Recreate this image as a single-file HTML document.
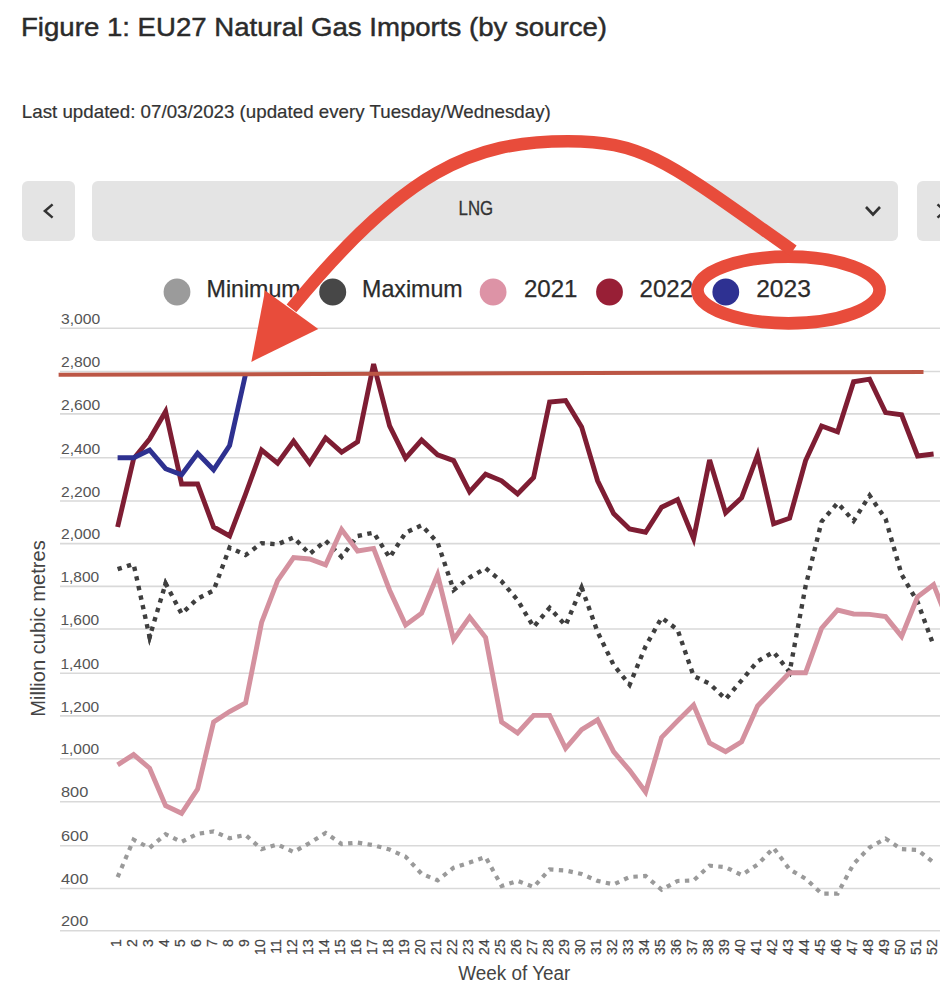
<!DOCTYPE html>
<html><head><meta charset="utf-8"><title>EU27 Natural Gas Imports</title>
<style>
html,body{margin:0;padding:0;background:#fff;}
body{width:940px;height:1000px;overflow:hidden;position:relative;font-family:"Liberation Sans", Arial, sans-serif;color:#333;}
svg{position:absolute;left:0;top:0;}
.yl{font-family:"Liberation Sans", Arial, sans-serif;font-size:14.5px;fill:#555;}
.xl{font-family:"Liberation Sans", Arial, sans-serif;font-size:14px;fill:#444;stroke:#444;stroke-width:0.2px;text-anchor:end;}
.ax{font-family:"Liberation Sans", Arial, sans-serif;font-size:20px;fill:#444;}
.t1{font-family:"Liberation Sans", Arial, sans-serif;font-size:26px;fill:#2b2b2b;stroke:#2b2b2b;stroke-width:0.45px;}
.t2{font-family:"Liberation Sans", Arial, sans-serif;font-size:18.5px;fill:#333;stroke:#333;stroke-width:0.2px;}
.dd{font-family:"Liberation Sans", Arial, sans-serif;font-size:19.8px;fill:#333;stroke:#333;stroke-width:0.3px;}
.lg{font-family:"Liberation Sans", Arial, sans-serif;font-size:23.2px;fill:#2b2b2b;stroke:#2b2b2b;stroke-width:0.25px;}
</style></head>
<body>
<svg width="940" height="1000" viewBox="0 0 940 1000">
<text x="21" y="35.7" class="t1" textLength="586" lengthAdjust="spacingAndGlyphs">Figure 1: EU27 Natural Gas Imports (by source)</text>
<text x="21.8" y="118.3" class="t2" textLength="529" lengthAdjust="spacingAndGlyphs">Last updated: 07/03/2023 (updated every Tuesday/Wednesday)</text>
<rect x="22" y="181" width="53" height="60" rx="6" fill="#e4e4e4"/>
<polyline points="52.6,204.4 44.9,211 52.6,217.6" fill="none" stroke="#333" stroke-width="2.5"/>
<rect x="92" y="181" width="806" height="60" rx="6" fill="#e4e4e4"/>
<text x="458.6" y="214.9" class="dd" textLength="34.6" lengthAdjust="spacingAndGlyphs">LNG</text>
<polyline points="866,207 873,214.5 880,207" fill="none" stroke="#333" stroke-width="2.6"/>
<rect x="917" y="181" width="40" height="60" rx="6" fill="#e4e4e4"/>
<polyline points="937.5,204.4 945,211 937.5,217.6" fill="none" stroke="#333" stroke-width="2.5"/>
<circle cx="177" cy="292" r="13.4" fill="#9b9b9b"/>
<text x="206.6" y="296.8" class="lg">Minimum</text>
<circle cx="332.7" cy="292" r="13.5" fill="#474747"/>
<text x="362.1" y="296.8" class="lg" textLength="100.6" lengthAdjust="spacingAndGlyphs">Maximum</text>
<circle cx="493.1" cy="292" r="13.4" fill="#dd93a6"/>
<text x="524" y="296.8" class="lg" textLength="53.5" lengthAdjust="spacingAndGlyphs">2021</text>
<circle cx="609.5" cy="292" r="13.4" fill="#981f36"/>
<text x="639.6" y="296.8" class="lg" textLength="53.5" lengthAdjust="spacingAndGlyphs">2022</text>
<circle cx="725.8" cy="292" r="13.4" fill="#2e3192"/>
<text x="756.2" y="296.8" class="lg" textLength="54.6" lengthAdjust="spacingAndGlyphs">2023</text>
<line x1="60" y1="328.3" x2="940" y2="328.3" stroke="#d9d9d9" stroke-width="1.6"/>
<line x1="60" y1="371.5" x2="940" y2="371.5" stroke="#d9d9d9" stroke-width="1.6"/>
<line x1="60" y1="413.9" x2="940" y2="413.9" stroke="#d9d9d9" stroke-width="1.6"/>
<line x1="60" y1="457.8" x2="940" y2="457.8" stroke="#d9d9d9" stroke-width="1.6"/>
<line x1="60" y1="501" x2="940" y2="501" stroke="#d9d9d9" stroke-width="1.6"/>
<line x1="60" y1="543.6" x2="940" y2="543.6" stroke="#d9d9d9" stroke-width="1.6"/>
<line x1="60" y1="586.4" x2="940" y2="586.4" stroke="#d9d9d9" stroke-width="1.6"/>
<line x1="60" y1="629" x2="940" y2="629" stroke="#d9d9d9" stroke-width="1.6"/>
<line x1="60" y1="673.2" x2="940" y2="673.2" stroke="#d9d9d9" stroke-width="1.6"/>
<line x1="60" y1="715.9" x2="940" y2="715.9" stroke="#d9d9d9" stroke-width="1.6"/>
<line x1="60" y1="758.7" x2="940" y2="758.7" stroke="#d9d9d9" stroke-width="1.6"/>
<line x1="60" y1="801.7" x2="940" y2="801.7" stroke="#d9d9d9" stroke-width="1.6"/>
<line x1="60" y1="845.7" x2="940" y2="845.7" stroke="#d9d9d9" stroke-width="1.6"/>
<line x1="60" y1="888.5" x2="940" y2="888.5" stroke="#d9d9d9" stroke-width="1.6"/>
<line x1="60" y1="930.7" x2="940" y2="930.7" stroke="#d9d9d9" stroke-width="1.6"/>
<text x="61" y="324.0" class="yl" textLength="39.2" lengthAdjust="spacingAndGlyphs">3,000</text>
<text x="61" y="367.2" class="yl" textLength="39.2" lengthAdjust="spacingAndGlyphs">2,800</text>
<text x="61" y="409.6" class="yl" textLength="39.2" lengthAdjust="spacingAndGlyphs">2,600</text>
<text x="61" y="453.5" class="yl" textLength="39.2" lengthAdjust="spacingAndGlyphs">2,400</text>
<text x="61" y="496.7" class="yl" textLength="39.2" lengthAdjust="spacingAndGlyphs">2,200</text>
<text x="61" y="539.3" class="yl" textLength="39.2" lengthAdjust="spacingAndGlyphs">2,000</text>
<text x="60.4" y="582.1" class="yl" textLength="38.8" lengthAdjust="spacingAndGlyphs">1,800</text>
<text x="60.4" y="624.7" class="yl" textLength="38.8" lengthAdjust="spacingAndGlyphs">1,600</text>
<text x="60.4" y="668.9" class="yl" textLength="38.8" lengthAdjust="spacingAndGlyphs">1,400</text>
<text x="60.4" y="711.6" class="yl" textLength="38.8" lengthAdjust="spacingAndGlyphs">1,200</text>
<text x="60.4" y="754.4" class="yl" textLength="38.8" lengthAdjust="spacingAndGlyphs">1,000</text>
<text x="61" y="797.4" class="yl" textLength="27.3" lengthAdjust="spacingAndGlyphs">800</text>
<text x="61" y="841.4" class="yl" textLength="27.3" lengthAdjust="spacingAndGlyphs">600</text>
<text x="61" y="884.2" class="yl" textLength="27.3" lengthAdjust="spacingAndGlyphs">400</text>
<text x="61" y="926.4" class="yl" textLength="27.3" lengthAdjust="spacingAndGlyphs">200</text>
<text transform="translate(121.0,939.3) rotate(-90)" class="xl">1</text>
<text transform="translate(137.0,939.3) rotate(-90)" class="xl">2</text>
<text transform="translate(153.0,939.3) rotate(-90)" class="xl">3</text>
<text transform="translate(169.0,939.3) rotate(-90)" class="xl">4</text>
<text transform="translate(185.0,939.3) rotate(-90)" class="xl">5</text>
<text transform="translate(201.0,939.3) rotate(-90)" class="xl">6</text>
<text transform="translate(217.0,939.3) rotate(-90)" class="xl">7</text>
<text transform="translate(233.0,939.3) rotate(-90)" class="xl">8</text>
<text transform="translate(249.0,939.3) rotate(-90)" class="xl">9</text>
<text transform="translate(265.0,939.3) rotate(-90)" class="xl">10</text>
<text transform="translate(281.0,939.3) rotate(-90)" class="xl">11</text>
<text transform="translate(297.0,939.3) rotate(-90)" class="xl">12</text>
<text transform="translate(313.0,939.3) rotate(-90)" class="xl">13</text>
<text transform="translate(329.0,939.3) rotate(-90)" class="xl">14</text>
<text transform="translate(345.0,939.3) rotate(-90)" class="xl">15</text>
<text transform="translate(361.0,939.3) rotate(-90)" class="xl">16</text>
<text transform="translate(377.0,939.3) rotate(-90)" class="xl">17</text>
<text transform="translate(393.0,939.3) rotate(-90)" class="xl">18</text>
<text transform="translate(409.0,939.3) rotate(-90)" class="xl">19</text>
<text transform="translate(425.0,939.3) rotate(-90)" class="xl">20</text>
<text transform="translate(441.0,939.3) rotate(-90)" class="xl">21</text>
<text transform="translate(457.0,939.3) rotate(-90)" class="xl">22</text>
<text transform="translate(473.0,939.3) rotate(-90)" class="xl">23</text>
<text transform="translate(489.0,939.3) rotate(-90)" class="xl">24</text>
<text transform="translate(505.0,939.3) rotate(-90)" class="xl">25</text>
<text transform="translate(521.0,939.3) rotate(-90)" class="xl">26</text>
<text transform="translate(537.0,939.3) rotate(-90)" class="xl">27</text>
<text transform="translate(553.0,939.3) rotate(-90)" class="xl">28</text>
<text transform="translate(569.0,939.3) rotate(-90)" class="xl">29</text>
<text transform="translate(585.0,939.3) rotate(-90)" class="xl">30</text>
<text transform="translate(601.0,939.3) rotate(-90)" class="xl">31</text>
<text transform="translate(617.0,939.3) rotate(-90)" class="xl">32</text>
<text transform="translate(633.0,939.3) rotate(-90)" class="xl">33</text>
<text transform="translate(649.0,939.3) rotate(-90)" class="xl">34</text>
<text transform="translate(665.0,939.3) rotate(-90)" class="xl">35</text>
<text transform="translate(681.0,939.3) rotate(-90)" class="xl">36</text>
<text transform="translate(697.0,939.3) rotate(-90)" class="xl">37</text>
<text transform="translate(713.0,939.3) rotate(-90)" class="xl">38</text>
<text transform="translate(729.0,939.3) rotate(-90)" class="xl">39</text>
<text transform="translate(745.0,939.3) rotate(-90)" class="xl">40</text>
<text transform="translate(761.0,939.3) rotate(-90)" class="xl">41</text>
<text transform="translate(777.0,939.3) rotate(-90)" class="xl">42</text>
<text transform="translate(793.0,939.3) rotate(-90)" class="xl">43</text>
<text transform="translate(809.0,939.3) rotate(-90)" class="xl">44</text>
<text transform="translate(825.0,939.3) rotate(-90)" class="xl">45</text>
<text transform="translate(841.0,939.3) rotate(-90)" class="xl">46</text>
<text transform="translate(857.0,939.3) rotate(-90)" class="xl">47</text>
<text transform="translate(873.0,939.3) rotate(-90)" class="xl">48</text>
<text transform="translate(889.0,939.3) rotate(-90)" class="xl">49</text>
<text transform="translate(905.0,939.3) rotate(-90)" class="xl">50</text>
<text transform="translate(921.0,939.3) rotate(-90)" class="xl">51</text>
<text transform="translate(937.0,939.3) rotate(-90)" class="xl">52</text>
<text x="514.3" y="979.9" class="ax" text-anchor="middle" textLength="112" lengthAdjust="spacingAndGlyphs">Week of Year</text>
<text transform="translate(44.6,628.5) rotate(-90)" class="ax" text-anchor="middle" textLength="176.6" lengthAdjust="spacingAndGlyphs">Million cubic metres</text>
<polyline points="117.6,877.1 133.6,839.7 149.6,847.9 165.6,834.2 181.6,841.9 197.6,833.8 213.6,831.4 229.6,838.2 245.6,835.0 261.6,849.2 277.6,844.5 293.6,852.0 309.6,843.0 325.6,833.0 341.6,844.0 357.6,842.6 373.6,845.2 389.6,849.6 405.6,856.7 421.6,873.8 437.6,880.4 453.6,867.7 469.6,862.6 485.6,857.0 501.6,886.0 517.6,880.9 533.6,887.0 549.6,869.4 565.6,870.5 581.6,874.0 597.6,880.9 613.6,884.4 629.6,877.0 645.6,876.0 661.6,889.7 677.6,881.0 693.6,880.4 709.6,865.7 725.6,867.2 741.6,875.0 757.6,864.6 773.6,847.9 789.6,869.4 805.6,878.7 821.6,893.6 837.6,893.6 853.6,863.9 869.6,847.4 885.6,838.6 901.6,849.2 917.6,850.0 933.6,862.4" fill="none" stroke="#9a9a9a" stroke-width="4.2" stroke-dasharray="4.4 5.4" stroke-linejoin="miter"/>
<polyline points="117.6,569.2 133.6,564.0 149.6,637.0 165.6,583.5 181.6,613.8 197.6,598.6 213.6,590.5 229.6,547.6 245.6,555.0 261.6,543.2 277.6,544.3 293.6,537.5 309.6,554.0 325.6,540.7 341.6,556.8 357.6,536.0 373.6,532.6 389.6,557.6 405.6,532.6 421.6,525.3 437.6,542.5 453.6,590.0 469.6,577.5 485.6,568.2 501.6,581.4 517.6,600.1 533.6,627.0 549.6,607.8 565.6,625.4 581.6,587.5 597.6,632.0 613.6,665.0 629.6,684.8 645.6,646.3 661.6,617.7 677.6,629.8 693.6,676.0 709.6,683.7 725.6,699.1 741.6,680.4 757.6,661.3 773.6,652.0 789.6,672.0 805.6,586.0 821.6,521.5 837.6,503.0 853.6,520.9 869.6,495.5 885.6,519.0 901.6,574.5 917.6,602.0 933.6,645.5" fill="none" stroke="#3f3f3f" stroke-width="4.4" stroke-dasharray="4.4 5.4" stroke-linejoin="miter"/>
<polyline points="149.06,634.56 149.60,637.00 150.32,634.60" fill="none" stroke="#3f3f3f" stroke-width="4.4" stroke-linejoin="miter" stroke-miterlimit="10"/>
<polyline points="164.88,585.90 165.60,583.50 166.77,585.71" fill="none" stroke="#3f3f3f" stroke-width="4.4" stroke-linejoin="miter" stroke-miterlimit="10"/>
<polyline points="580.63,589.80 581.60,587.50 582.45,589.85" fill="none" stroke="#3f3f3f" stroke-width="4.4" stroke-linejoin="miter" stroke-miterlimit="10"/>
<polyline points="788.04,670.05 789.60,672.00 790.06,669.54" fill="none" stroke="#3f3f3f" stroke-width="4.4" stroke-linejoin="miter" stroke-miterlimit="10"/>
<polyline points="117.6,764.9 133.6,754.6 149.6,768.2 165.6,805.6 181.6,813.3 197.6,789.1 213.6,722.0 229.6,711.5 245.6,703.0 261.6,622.4 277.6,580.6 293.6,557.5 309.6,559.0 325.6,564.9 341.6,529.5 357.6,551.0 373.6,548.4 389.6,590.2 405.6,625.0 421.6,613.3 437.6,574.8 453.6,639.7 469.6,617.0 485.6,637.5 501.6,722.0 517.6,733.0 533.6,715.4 549.6,715.4 565.6,748.4 581.6,729.7 597.6,719.8 613.6,751.7 629.6,770.4 645.6,792.0 661.6,737.4 677.6,720.9 693.6,705.0 709.6,742.9 725.6,751.7 741.6,741.8 757.6,706.0 773.6,689.2 789.6,672.7 805.6,672.7 821.6,628.2 837.6,610.0 853.6,614.0 869.6,614.4 885.6,616.6 901.6,636.4 917.6,596.8 933.6,584.7 949.6,625.0" fill="none" stroke="#d4919f" stroke-width="4.9" stroke-linejoin="miter"/>
<polyline points="117.6,527.0 133.6,458.8 149.6,439.0 165.6,411.5 181.6,484.0 197.6,484.0 213.6,527.0 229.6,536.0 245.6,494.0 261.6,450.0 277.6,463.2 293.6,441.2 309.6,463.2 325.6,437.9 341.6,452.2 357.6,441.7 373.6,364.0 389.6,425.8 405.6,458.2 421.6,440.1 437.6,454.9 453.6,460.6 469.6,491.8 485.6,474.2 501.6,480.8 517.6,494.0 533.6,477.5 549.6,402.0 565.6,400.5 581.6,426.9 597.6,480.8 613.6,513.5 629.6,529.0 645.6,532.2 661.6,507.2 677.6,499.5 693.6,538.5 709.6,459.9 725.6,512.7 741.6,497.8 757.6,455.0 773.6,523.7 789.6,518.2 805.6,460.5 821.6,426.0 837.6,431.8 853.6,381.8 869.6,379.2 885.6,412.6 901.6,414.8 917.6,456.0 933.6,454.0" fill="none" stroke="#7e1d33" stroke-width="4.9" stroke-linejoin="miter"/>
<polyline points="117.6,457.7 133.6,457.7 149.6,450.0 165.6,468.7 181.6,474.7 197.6,453.3 213.6,469.8 229.6,445.6 245.6,374.0" fill="none" stroke="#2e3190" stroke-width="4.9" stroke-linejoin="miter"/>
<!-- annotations -->
<line x1="58.6" y1="374.8" x2="923.5" y2="372" stroke="#bc5645" stroke-width="4"/>
<ellipse cx="788.5" cy="290" rx="91.1" ry="33.3" fill="none" stroke="#e84c3b" stroke-width="12.7"/>
<path d="M291.5,308.4 C403.9,170.7 472.9,141.2 568,141.2 C645.5,141.2 669.7,163.6 793,250.6" fill="none" stroke="#e84c3b" stroke-width="12.5"/>
<polygon points="265.1,290.6 318.3,328.9 251.3,361.9" fill="#e84c3b"/>
</svg>
</body></html>
